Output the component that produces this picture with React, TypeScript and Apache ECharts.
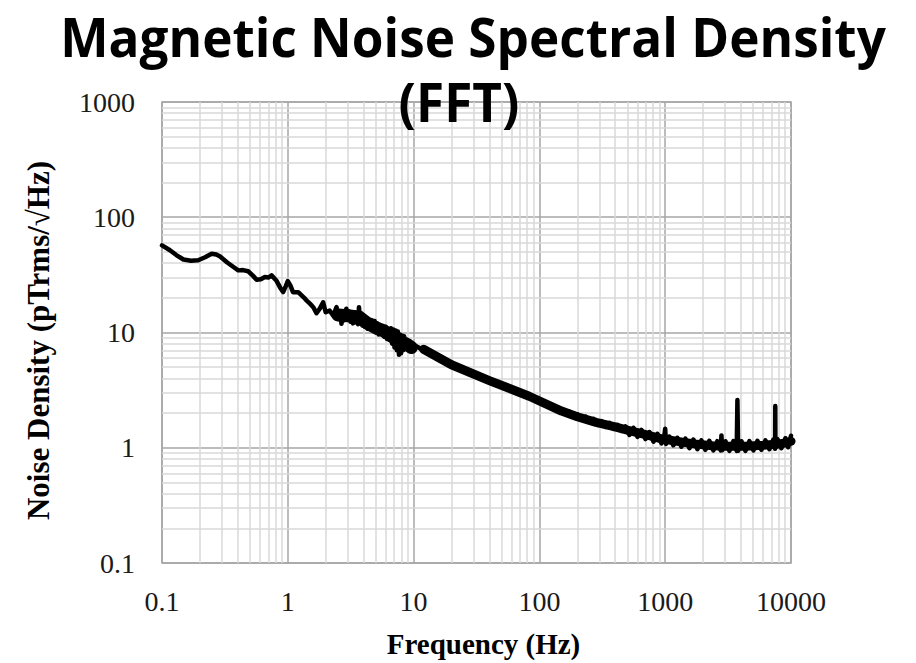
import React, { useEffect, useRef } from "react";
import * as echarts from "echarts";

const TITLE_LINE_1 = "Magnetic Noise Spectral Density";
const TITLE_LINE_2 = "(FFT)";
const X_NAME = "Frequency (Hz)";
const Y_NAME = "Noise Density (pTrms/\u221AHz)";

const X_MIN = 0.1;
const X_MAX = 10000;
const Y_MIN = 0.1;
const Y_MAX = 1000;

// decades used for the light minor grid (2..9 x decade)
const X_DECADES = [0.1, 1, 10, 100, 1000];
const Y_DECADES = [0.1, 1, 10, 100];
const MINOR_STEPS = [2, 3, 4, 5, 6, 7, 8, 9];

// [frequency Hz, density pT/√Hz] — low frequency part
const lowFreq: [number, number][] = [
  [0.1, 57], [0.115, 52], [0.13, 47], [0.148, 43], [0.17, 42], [0.194, 42.3],
  [0.22, 45], [0.248, 48.3], [0.27, 47.5], [0.288, 45.8], [0.33, 40.5], [0.37, 37],
  [0.404, 34.6], [0.44, 34.8], [0.484, 34], [0.53, 31], [0.565, 28.7], [0.61, 29],
  [0.657, 30.3], [0.7, 30], [0.743, 31.3], [0.81, 28.3], [0.87, 24.5], [0.918, 22.4],
  [0.96, 25], [1.0, 27.9], [1.05, 25.5], [1.1, 22.4], [1.21, 22.4], [1.35, 20],
  [1.42, 18.8], [1.5, 17.8], [1.6, 16.5], [1.69, 14.7], [1.8, 16.2], [1.91, 18.3],
  [2.0, 15], [2.15, 15.5], [2.3, 14], [2.44, 16.6],
];

// noisy stretch between 2.5 and 10 Hz
const noisyFreq: [number, number][] = [
  [2.55, 13.2], [2.62, 15.0], [2.67, 11.9], [2.75, 14.2], [2.83, 12.8], [2.92, 16.1],
  [3.0, 13.0], [3.08, 15.2], [3.15, 12.4], [3.22, 14.8], [3.3, 12.0], [3.4, 15.0],
  [3.48, 12.2], [3.56, 14.2], [3.62, 11.8], [3.68, 16.6], [3.76, 12.3], [3.84, 14.6],
  [3.92, 11.5], [4.0, 13.8], [4.1, 11.2], [4.2, 13.4], [4.3, 10.8], [4.42, 13.0],
  [4.55, 10.9], [4.66, 12.8], [4.78, 10.5], [4.9, 12.6], [5.02, 10.0], [5.15, 12.0],
  [5.28, 9.6], [5.4, 11.6], [5.55, 9.8], [5.7, 11.4], [5.85, 9.2], [6.0, 11.2],
  [6.15, 8.8], [6.3, 10.8], [6.45, 8.6], [6.6, 10.9], [6.75, 8.0], [6.9, 10.6],
  [7.05, 7.4], [7.2, 10.4], [7.35, 7.0], [7.5, 10.2], [7.65, 6.4], [7.8, 9.6],
  [7.95, 6.6], [8.1, 9.4], [8.25, 7.0], [8.4, 9.3], [8.55, 7.2], [8.7, 8.6],
  [8.9, 7.2], [9.1, 8.2], [9.4, 7.3], [9.86, 7.3],
];

// smooth decline 10 – 150 Hz
const midFreq: [number, number][] = [
  [10.5, 7.6], [11.5, 7.2], [12.5, 7.1], [13.4, 6.75], [14.5, 6.4], [16, 5.9],
  [17.5, 5.6], [19.3, 5.35], [21, 5.1], [23.5, 4.95], [25.5, 4.8], [27.8, 4.68],
  [31, 4.35], [35, 4.1], [40, 3.83], [45, 3.62], [50, 3.45], [57.8, 3.24],
  [65, 3.06], [73, 2.95], [83.3, 2.8], [92, 2.66], [100, 2.56], [113, 2.42],
  [130, 2.25],
];

// high frequency floor with line-frequency spikes
const highFreq: [number, number][] = [
  [150, 2.16], [162, 1.98], [174, 2.05], [187, 1.86], [201, 1.95], [216, 1.76],
  [233, 1.86], [250, 1.68], [269, 1.78], [290, 1.58], [312, 1.7], [335, 1.52],
  [361, 1.64], [388, 1.46], [418, 1.58], [449, 1.4], [483, 1.53], [520, 1.29],
  [560, 1.49], [602, 1.24], [648, 1.43], [697, 1.19], [750, 1.37], [807, 1.13],
  [868, 1.32], [934, 1.09], [985, 1.28], [1000, 1.46], [1015, 1.08], [1080, 1.25],
  [1160, 1.05], [1250, 1.22], [1345, 1.02], [1447, 1.2], [1557, 0.99], [1675, 1.18],
  [1802, 0.97], [1939, 1.16], [2086, 0.96], [2245, 1.15], [2415, 0.95], [2599, 1.14],
  [2760, 0.95], [2800, 1.28], [2840, 0.95], [3010, 1.14], [3240, 0.94], [3486, 1.14],
  [3700, 0.94], [3750, 2.6], [3800, 0.94], [4035, 1.14], [4342, 0.94], [4672, 1.14],
  [5027, 0.95], [5409, 1.15], [5820, 0.96], [6262, 1.16], [6738, 0.97], [7250, 1.18],
  [7480, 0.98], [7500, 2.3], [7520, 0.99], [7800, 1.19], [8390, 0.99], [9030, 1.21],
  [9500, 1.01], [10000, 1.27],
];

// centre of the 2.5–10 Hz noise band (wide trace underneath)
const noisyCentre: [number, number][] = [
  [2.5, 14.2], [3.0, 14.0], [3.7, 13.6], [4.3, 12.0], [5.0, 11.0], [5.8, 10.3],
  [6.6, 9.4], [7.4, 8.6], [8.2, 8.2], [9.0, 7.8], [9.6, 7.4],
];

// centre of the broadband noise floor (wide trace underneath)
const floorCentre: [number, number][] = [
  [12, 7.15], [20, 5.25], [40, 3.83], [83, 2.8], [150, 2.08], [200, 1.86],
  [282, 1.66], [400, 1.52], [518, 1.41], [700, 1.3], [952, 1.19], [1291, 1.13],
  [1700, 1.08], [2371, 1.04], [3000, 1.03], [4365, 1.03], [6000, 1.05], [8000, 1.08],
  [9080, 1.1], [10000, 1.14],
];

const spectrum = [...lowFreq, ...noisyFreq, ...midFreq, ...highFreq];

const minorValues = (decades: number[]) =>
  decades.flatMap((d) => MINOR_STEPS.map((m) => +(d * m).toPrecision(6)));

const fmt = (v: number) => String(+Number(v).toPrecision(6));

export default function App() {
  const ref = useRef<HTMLDivElement>(null);

  useEffect(() => {
    if (!ref.current) return;
    const chart = echarts.init(ref.current, null, { renderer: "svg" });

    const minorLine = { color: "#d9d9d9", width: 1.5, type: "solid" };
    const majorLine = { color: "#a6a6a6", width: 1.5, type: "solid" };
    const titleFont = 'bold 54px "Open Sans"';
    const axisNameStyle = {
      fontFamily: "Liberation Serif",
      fontWeight: "bold",
      fontSize: 30,
      color: "#000",
    };
    const axisLabelStyle = {
      formatter: fmt,
      fontFamily: "Liberation Serif",
      fontSize: 28,
      color: "#1a1a1a",
    };
    const trace = (width: number) => ({ color: "#000", width, join: "round", cap: "round" });

    chart.setOption({
      animation: false,
      backgroundColor: "#ffffff",
      grid: {
        left: 162,
        right: 125,
        top: 102,
        bottom: 100,
        show: true,
        borderColor: "#a6a6a6",
        borderWidth: 1.5,
        backgroundColor: "transparent",
      },
      graphic: [
        {
          type: "text",
          x: 473,
          y: 36,
          scaleX: 0.95,
          z: 100,
          style: {
            text: TITLE_LINE_1,
            font: titleFont,
            fill: "#000000",
            align: "center",
            verticalAlign: "middle",
          },
        },
        {
          type: "text",
          x: 459,
          y: 101,
          scaleX: 0.95,
          z: 100,
          style: {
            text: TITLE_LINE_2,
            font: titleFont,
            fill: "#000000",
            align: "center",
            verticalAlign: "middle",
          },
        },
      ],
      xAxis: {
        type: "log",
        logBase: 10,
        min: X_MIN,
        max: X_MAX,
        name: X_NAME,
        nameLocation: "middle",
        nameGap: 66,
        nameMoveOverlap: false,
        nameTextStyle: { ...axisNameStyle, fontSize: 29, padding: [0, 0, 0, 14] },
        axisLine: { show: false },
        axisTick: { show: false },
        axisLabel: { ...axisLabelStyle, margin: 24 },
        splitLine: { show: true, lineStyle: majorLine },
      },
      yAxis: {
        type: "log",
        logBase: 10,
        min: Y_MIN,
        max: Y_MAX,
        name: Y_NAME,
        nameLocation: "middle",
        nameGap: 108,
        nameMoveOverlap: false,
        nameTextStyle: { ...axisNameStyle, fontSize: 31, padding: [0, 16, 0, 0] },
        axisLine: { show: false },
        axisTick: { show: false },
        axisLabel: { ...axisLabelStyle, margin: 27 },
        splitLine: { show: true, lineStyle: majorLine },
      },
      series: [
        {
          name: "grid",
          type: "line",
          data: [],
          symbol: "none",
          silent: true,
          z: 1,
          markLine: {
            z: 1,
            silent: true,
            symbol: ["none", "none"],
            label: { show: false },
            lineStyle: minorLine,
            emphasis: { disabled: true },
            data: [
              ...minorValues(X_DECADES).map((v) => ({ xAxis: v })),
              ...minorValues(Y_DECADES).map((v) => ({ yAxis: v })),
            ],
          },
        },
        {
          name: "noise band",
          type: "line",
          data: noisyCentre,
          symbol: "none",
          silent: true,
          z: 8,
          lineStyle: trace(13),
        },
        {
          name: "floor",
          type: "line",
          data: floorCentre,
          symbol: "none",
          silent: true,
          z: 8,
          lineStyle: trace(9),
        },
        {
          name: "spectrum",
          type: "line",
          data: spectrum,
          symbol: "none",
          showSymbol: false,
          z: 10,
          lineStyle: trace(4.5),
        },
      ],
    });

    return () => chart.dispose();
  }, []);

  return (
    <div
      ref={ref}
      style={{ position: "fixed", left: 0, top: 0, width: 916, height: 663, background: "#fff" }}
    />
  );
}
